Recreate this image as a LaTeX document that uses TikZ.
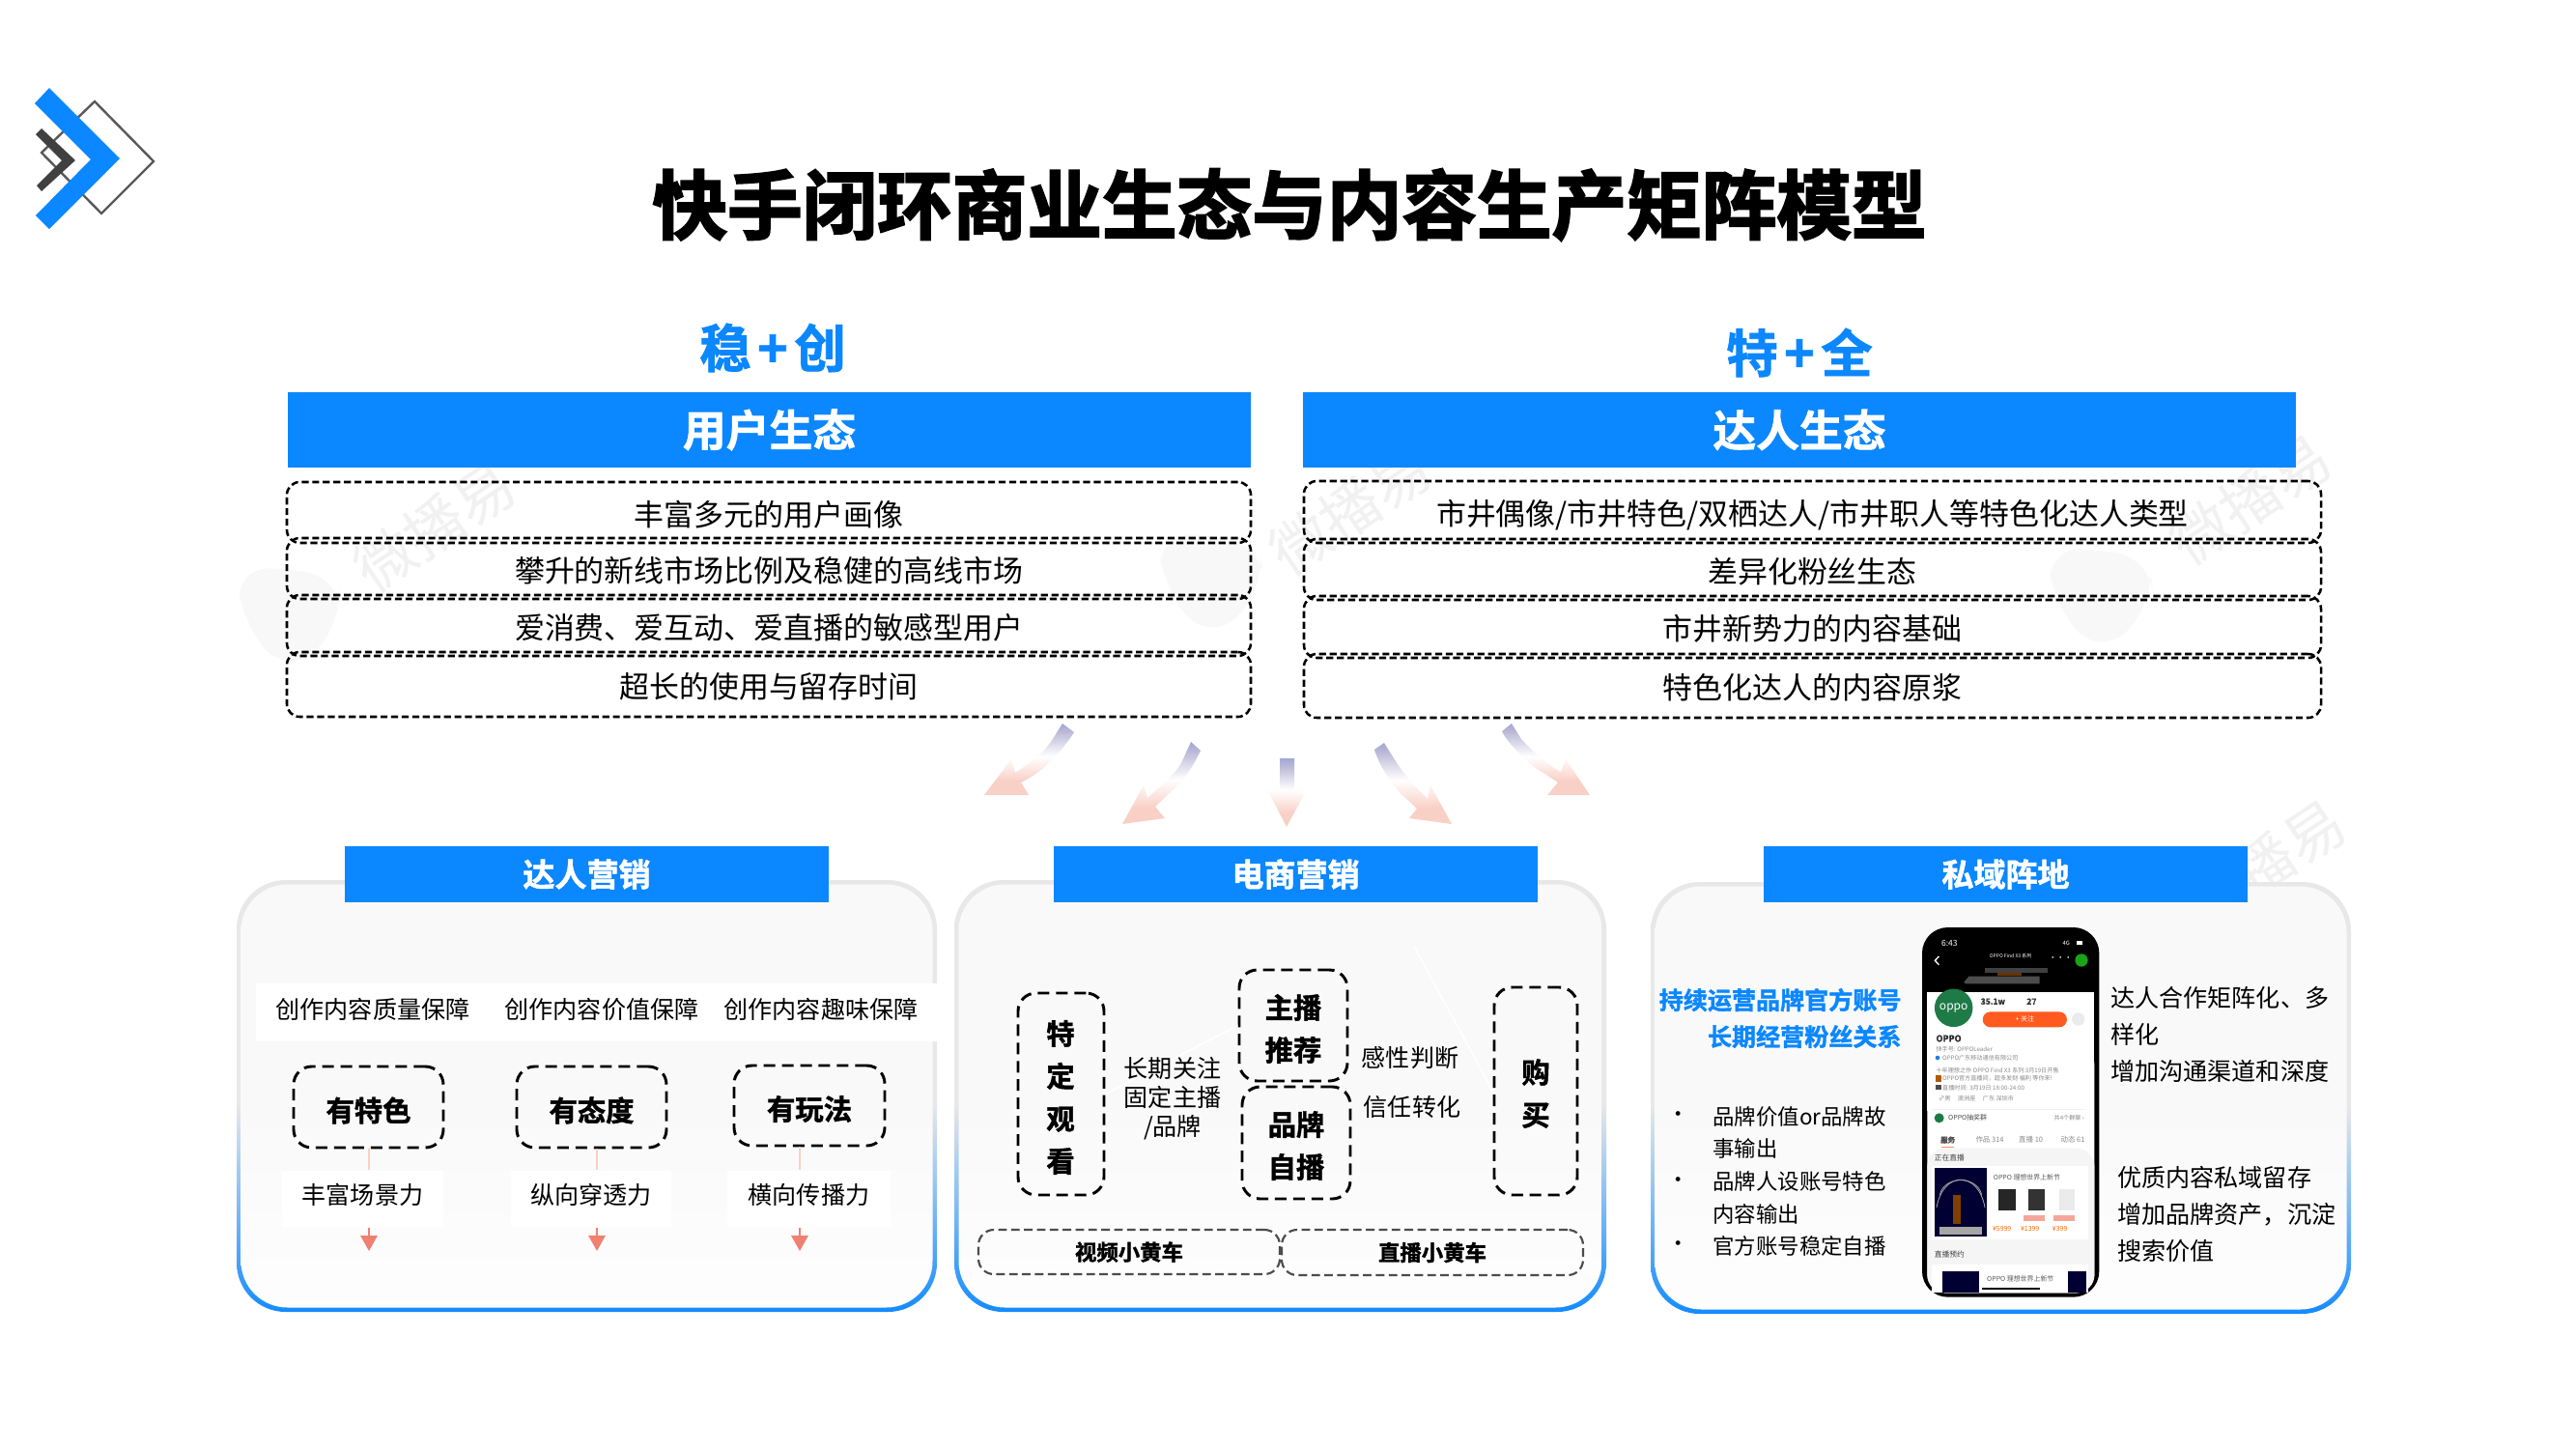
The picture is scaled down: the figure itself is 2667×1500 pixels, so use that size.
\documentclass[tikz,border=0pt]{standalone}
\usepackage{fontspec}
\setmainfont{Noto Sans CJK SC}
\newfontfamily\heavy[FakeBold=1.5]{Noto Sans CJK SC Bold}
\newfontfamily\heavier[FakeBold=2.6]{Noto Sans CJK SC Bold}
\usetikzlibrary{arrows.meta}
\newcommand\fs[1]{\fontsize{#1pt}{#1pt}\selectfont}
\newcommand\fsl[2]{\fontsize{#1pt}{#2pt}\selectfont}
\definecolor{brand}{HTML}{0B87FF}
\definecolor{panelgray}{HTML}{E8E8E8}
\definecolor{panelfill}{HTML}{F9F9FA}
\definecolor{apink}{HTML}{F9D0C6}
\definecolor{ablue}{HTML}{1F7FEA}
\definecolor{amid}{HTML}{5F8CD8}
\definecolor{amid2}{HTML}{B9B6D6}
\definecolor{salmon}{HTML}{F08070}
\definecolor{wm}{HTML}{F1F1F1}
\definecolor{wmb}{HTML}{F8F8F8}
\definecolor{oppogreen}{HTML}{1E7A46}
\definecolor{btnorange}{HTML}{FF5A1F}
\definecolor{tinygray}{HTML}{8A8A8A}
\pgfdeclareverticalshading{arrowsh}{100bp}{color(0bp)=(white); color(8bp)=(apink); color(35bp)=(apink); color(52bp)=(white); color(70bp)=(amid2); color(87bp)=(amid); color(100bp)=(ablue)}
\pgfdeclareverticalshading{panelb}{100bp}{color(0bp)=(brand); color(24bp)=(brand); color(49bp)=(panelgray); color(100bp)=(panelgray)}
\pgfdeclareverticalshading{panelf}{100bp}{color(0bp)=(white); color(18bp)=(white); color(49bp)=(panelfill); color(100bp)=(panelfill)}
\newcommand\fitbox[6][]{\node[#2,#1,minimum width={(#5)*0.375pt},minimum height={(#6)*0.375pt}] at ({#3+(#5)/2},{#4+(#6)/2})}
\tikzset{
  bar/.style={fill=brand,text=white,inner sep=0pt,font=\heavy\fs{16.8}},
  subbar/.style={fill=brand,text=white,inner sep=0pt,font=\heavy\fs{12.4}},
  rowbox/.style={draw=black,line width=0.95pt,rounded corners=5pt,dash pattern=on 2.7pt off 1.4pt,inner sep=0pt,font=\fs{11.6},text height=11.7pt,text depth=1.4pt},
  bigdash/.style={draw=black,line width=1.1pt,rounded corners=7pt,dash pattern=on 4.5pt off 2.6pt,inner sep=0pt,font=\heavy\fs{11},align=center,text height=12.3pt,text depth=1.3pt},
  tallbox/.style={draw=black,line width=1.1pt,rounded corners=7pt,dash pattern=on 4.5pt off 2.6pt,inner sep=0pt},
  stack/.style={inner sep=0pt,align=center,font=\heavy\fsl{11}{16.5pt}},
  yellowbox/.style={draw=black!70,line width=0.8pt,rounded corners=6pt,dash pattern=on 3.3pt off 1.7pt,inner sep=0pt,font=\heavy\fs{8.4}},
  whitelab/.style={fill=white,inner sep=0pt,font=\fs{9.4},text height=8.3pt,text depth=4.1pt},
  txt/.style={inner sep=0pt,font=\fs{9.4}},
  leadtxt/.style={inner sep=0pt,font=\fsl{9.4}{14.15pt},align=left,anchor=north west},
  bullet/.style={inner sep=0pt,font=\fs{8.4}},
  faintline/.style={draw=apink,line width=0.7pt},
  redarrow/.style={draw=salmon,line width=0.8pt,-{Triangle[length=6pt,width=6.5pt]}},
  watermark/.style={text=wm,font=\fs{23},rotate=34,inner sep=0pt},
  fade/.style={shade,shading=arrowsh},
  tiny/.style={inner sep=0pt,text=tinygray,font=\fs{2.3}},
  tinyw/.style={inner sep=0pt,text=white,font=\fs{2.6}},
}
\begin{document}
\begin{tikzpicture}[x=0.375pt,y=-0.375pt]
\useasboundingbox (0,0) rectangle (2667,1500);
\fill[white] (0,0) rectangle (2667,1500);

% watermark
\node[watermark] (wm1) at (450,545) {微播易};
\node[watermark] (wm2) at (1398,528) {微播易};
\node[watermark] (wm3) at (2330,517) {微播易};
\node[watermark] (wm4) at (2345,895) {微播易};
\foreach \cx/\cy in {300/635,1254/600,2175/615}{
  \fill[wmb,rounded corners=14pt] (\cx-55,\cy-50) -- (\cx+50,\cy-40) -- (\cx+55,\cy+10) -- (\cx,\cy+65) -- (\cx-50,\cy+10) -- cycle;
}

% logo
\draw[draw=black!65,line width=0.9pt,fill=white] (98,105) -- (159,167) -- (105,221) -- (43,158) -- cycle;
\fill[brand] (51,91) -- (124,164) -- (51,237) -- (37,223) -- (94,165) -- (36,107) -- cycle;
\fill[black!75] (43,133) -- (78,166) -- (43,198) -- (38,192) -- (64,166) -- (37,139) -- cycle;

% title
\node[inner sep=0pt,font=\heavier\fs{29.1}] (title) at (1335,212) {快手闭环商业生态与内容生产矩阵模型};
\node[inner sep=0pt,text=brand,font=\heavy\fs{20}] (tagl) at (800,360) {稳\kern2.5pt+\kern2.5pt创};
\node[inner sep=0pt,text=brand,font=\heavy\fs{20}] (tagr) at (1863,365) {特\kern2.5pt+\kern2.5pt全};

% top bars
\fitbox[name=barl]{bar}{298}{406}{997}{78}{用户生态};
\fitbox[name=barr]{bar}{1349}{406}{1028}{78}{达人生态};

% rows left
\fitbox[name=l1]{rowbox}{297}{499}{998}{63}{丰富多元的用户画像};
\fitbox[name=l2]{rowbox}{297}{557}{998}{63}{攀升的新线市场比例及稳健的高线市场};
\fitbox[name=l3]{rowbox}{297}{616}{998}{63}{爱消费、爱互动、爱直播的敏感型用户};
\fitbox[name=l4]{rowbox}{297}{675}{998}{67}{超长的使用与留存时间};
% rows right
\fitbox[name=r1]{rowbox}{1350}{498}{1053}{64}{市井偶像/市井特色/双栖达人/市井职人等特色化达人类型};
\fitbox[name=r2]{rowbox}{1350}{558}{1053}{63}{差异化粉丝生态};
\fitbox[name=r3]{rowbox}{1350}{617}{1053}{64}{市井新势力的内容基础};
\fitbox[name=r4]{rowbox}{1350}{677}{1053}{66}{特色化达人的内容原浆};

% gradient arrows
\path[fade] (1100,749) -- (1112,758) .. controls (1103,772) and (1092,785) .. (1080,795) .. controls (1072,802) and (1065,806) .. (1057,810) -- (1065,823) -- (1019,823) -- (1047,786) -- (1051,800) .. controls (1063,792) and (1078,782) .. (1088,768) -- cycle;
\path[fade] (1233,768) -- (1243,777) .. controls (1237,790) and (1228,805) .. (1215,817) -- (1196,835) -- (1206,847) -- (1162,853) -- (1184,813) -- (1188,826) .. controls (1200,815) and (1218,800) .. (1223,790) -- cycle;
\path[fade] (1325,785) -- (1340,785) -- (1340,817) -- (1353,817) -- (1332,856) -- (1312,817) -- (1325,817) -- cycle;
\path[fade] (1433,769) -- (1423,776) .. controls (1427,790) and (1440,812) .. (1452,823) -- (1467,837) -- (1459,847) -- (1503,853) -- (1481,813) -- (1478,827) .. controls (1470,820) and (1452,800) .. (1445,788) -- cycle;
\path[fade] (1565,749) -- (1555,757) .. controls (1560,768) and (1578,786) .. (1590,795) -- (1613,810) -- (1602,823) -- (1646,823) -- (1621,786) -- (1616,799) .. controls (1608,795) and (1590,782) .. (1575,765) -- cycle;

% panels
\foreach \xa/\ya/\xb/\yb in {245/911/970/1358,988/911/1663/1358,1709/913/2434/1360}{
  \path[shade,shading=panelb,rounded corners=19pt] (\xa,\ya) rectangle (\xb,\yb);
  \path[shade,shading=panelf,rounded corners=18pt] (\xa+4.5,\ya+4.5) rectangle (\xb-4.5,\yb-4.5);
}
\fitbox[name=h1]{subbar}{357}{876}{501}{58}{达人营销};
\fitbox[name=h2]{subbar}{1091}{876}{501}{58}{电商营销};
\fitbox[name=h3]{subbar}{1826}{876}{501}{58}{私域阵地};

% panel 1
\fill[white] (265,1018) rectangle (972,1078);
\node[txt] (q1) at (386,1045) {创作内容质量保障};
\node[txt] (q2) at (623,1045) {创作内容价值保障};
\node[txt] (q3) at (850,1045) {创作内容趣味保障};
\fitbox[name=d1]{bigdash}{304}{1104}{155}{84}{有特色};
\fitbox[name=d2]{bigdash}{535}{1104}{155}{84}{有态度};
\fitbox[name=d3]{bigdash}{760}{1103}{156}{83}{有玩法};
\fitbox[name=f1]{whitelab}{292}{1212}{167}{58}{丰富场景力};
\fitbox[name=f2]{whitelab}{529}{1212}{166}{58}{纵向穿透力};
\fitbox[name=f3]{whitelab}{753}{1212}{169}{58}{横向传播力};
\coordinate (t1) at (382,1295);
\coordinate (t2) at (618,1295);
\coordinate (t3) at (828,1295);
\draw[faintline] (d1.south -| t1) -- (f1.north -| t1);
\draw[faintline] (d2.south -| t2) -- (f2.north -| t2);
\draw[faintline] (d3.south -| t3) -- (f3.north -| t3);
\draw[redarrow] (f1.south -| t1) -- (t1);
\draw[redarrow] (f2.south -| t2) -- (t2);
\draw[redarrow] (f3.south -| t3) -- (t3);

% panel 2
\fitbox[name=g1]{tallbox}{1054}{1028}{89}{209}{};
\fitbox[name=g2]{tallbox}{1283}{1004}{112}{115}{};
\fitbox[name=g3]{tallbox}{1286}{1125}{112}{116}{};
\fitbox[name=g4]{tallbox}{1547}{1022}{86}{215}{};
\coordinate (wl) at (1464,980);
\draw[white,line width=0.6pt] (g1.east) -- (g2.west);
\draw[white,line width=0.6pt] (wl) -- (g4.west);
\node[stack] (g1t) at (1098,1136) {特\\定\\观\\看};
\node[stack] (g2t) at (1339,1065) {主播\\推荐};
\node[stack] (g3t) at (1342,1186) {品牌\\自播};
\node[stack] (g4t) at (1590,1132) {购\\买};
\node[txt,align=center,font=\fsl{9.4}{11.25pt}] (lg) at (1214,1137) {长期关注\\固定主播\\/品牌};
\node[txt] (gx1) at (1460,1095) {感性判断};
\node[txt] (gx2) at (1462,1146) {信任转化};
\fitbox[name=y1]{yellowbox}{1013}{1273}{312}{46}{视频小黄车};
\fitbox[name=y2]{yellowbox}{1327}{1273}{312}{47}{直播小黄车};

% panel 3
\node[inner sep=0pt,align=right,text=brand,font=\heavy\fsl{9.4}{14.2pt},anchor=east] (blue) at (1969,1054) {持续运营品牌官方账号\\长期经营粉丝关系};
\node[bullet] (b1) at (1738,1156) {•};
\node[bullet] (b2) at (1738,1224) {•};
\node[bullet] (b3) at (1738,1290) {•};
\node[inner sep=0pt,align=left,font=\fsl{8.4}{12.6pt},anchor=west] (blist) at (1773,1223) {品牌价值or品牌故\\事输出\\品牌人设账号特色\\内容输出\\官方账号稳定自播};
\node[leadtxt,anchor=west] (rt1) at (2185,1071) {达人合作矩阵化、多\\样化\\增加沟通渠道和深度};
\node[leadtxt,anchor=west] (rt2) at (2192,1257) {优质内容私域留存\\增加品牌资产，沉淀\\搜索价值};

% phone
\begin{scope}[shift={(1980,950)},x=0.125pt,y=-0.125pt]
  \fill[black,rounded corners=10pt] (30,30) rectangle (580,1178);
  \fill[white,rounded corners=7pt] (46,400) rectangle (565,1165);
  \fill[white] (46,232) rectangle (565,600);
  \fill[black!75] (225,155) -- (420,155) -- (420,170) -- (225,170) -- cycle;
  \fill[black!70] (160,200) -- (175,182) -- (395,182) -- (395,205) -- (165,205) -- cycle;
  \fill[orange!40!black] (265,172) rectangle (340,180);
  \node[tinyw,font=\fs{3.2}] (pa) at (115,78) {6:43};
  \node[tinyw,font=\fs{2.2}] (pb) at (478,78) {4G};
  \fill[white] (510,72) rectangle (528,84);
  \draw[white,line width=0.5pt] (82,120) -- (70,133) -- (82,146);
  \node[tinyw,font=\fs{1.9}] (pc) at (305,120) {OPPO Find X3 系列};
  \node[tinyw,font=\fs{3}] (pd) at (460,128) {···};
  \fill[green!60!black!90!white] (525,132) circle (20);
  \node[circle,fill=oppogreen,minimum size=14.8pt,inner sep=0pt,text=white,font=\fs{4.5}] (oppo) at (128,280) {oppo};
  \node[inner sep=0pt,font=\heavy\fs{3.2},text=black!80] (pe) at (250,260) {35.1w};
  \node[inner sep=0pt,font=\heavy\fs{3.2},text=black!80] (pf) at (370,260) {27};
  \node[rounded corners=3pt,fill=btnorange,text=white,minimum width=32.7pt,minimum height=6pt,inner sep=0pt,font=\fs{2.6}] (btn) at (349,316) {+ 关注};
  \fill[black!8] (515,315) circle (20);
  \node[inner sep=0pt,anchor=west,font=\heavy\fs{3.4},text=black!85] (pg) at (72,375) {OPPO};
  \node[tiny,anchor=west] (ph) at (72,408) {快手号: OPPOLeader};
  \fill[ablue] (78,435) circle (7);
  \node[tiny,anchor=west] (pi) at (92,435) {OPPO广东移动通信有限公司};
  \node[tiny,anchor=west] (pj) at (72,475) {十年理想之作 OPPO Find X3 系列 3月19日开售};
  \fill[orange!70!black] (72,490) rectangle (90,510);
  \node[tiny,anchor=west] (pk) at (92,500) {OPPO官方直播间，超多发财 福利 等你来!};
  \fill[black!70] (72,518) rectangle (90,535);
  \node[tiny,anchor=west] (pl) at (92,527) {直播时间: 3月19日 18:00-24:00};
  \node[tiny,anchor=west] (pm) at (80,560) {♂男 \quad 澳洲座 \quad 广东 深圳市};
  \draw[black!6,line width=0.3pt] (60,595) -- (540,595);
  \fill[oppogreen] (83,622) circle (15);
  \node[tiny,anchor=west,text=black!70,font=\fs{2.6}] (pn) at (110,622) {OPPO抽奖群};
  \node[tiny,anchor=east] (po) at (535,622) {共4个群聊 ›};
  \node[inner sep=0pt,font=\heavy\fs{2.8},text=black!70] (pp) at (110,690) {服务};
  \draw[btnorange!70,line width=0.4pt] (90,712) -- (130,712);
  \node[tiny,font=\fs{2.8}] (pq) at (240,690) {作品 314};
  \node[tiny,font=\fs{2.8}] (pr) at (368,690) {直播 10};
  \node[tiny,font=\fs{2.8}] (ps) at (498,690) {动态 61};
  \fill[black!4,rounded corners=7pt] (46,716) rectangle (565,1165);
  \node[inner sep=0pt,font=\fs{2.9},text=black!75] (pt) at (115,745) {正在直播};
  \fill[white] (60,770) rectangle (545,1000);
  \fill[blue!20!black] (70,778) rectangle (230,990);
  \draw[black!35,line width=0.3pt] (85,860) .. controls (100,800) and (200,800) .. (215,860);
  \draw[black!35,line width=0.3pt] (75,900) .. controls (95,785) and (205,785) .. (225,900);
  \fill[orange!50!black] (125,860) rectangle (150,950);
  \fill[black!35] (85,960) rectangle (215,985);
  \node[tiny,anchor=west,text=black!65,font=\fs{2.6}] (pu) at (250,808) {OPPO 理想世界上新节};
  \fill[black!85] (266,842) rectangle (320,910);
  \fill[black!80] (360,842) rectangle (412,910);
  \fill[black!8] (455,842) rectangle (505,910);
  \fill[salmon!70] (345,925) rectangle (410,942);
  \fill[salmon!70] (438,925) rectangle (503,942);
  \node[inner sep=0pt,text=orange!80!red,font=\fs{2.6}] (pv) at (278,965) {¥5999};
  \node[inner sep=0pt,text=orange!80!red,font=\fs{2.6}] (pw) at (365,965) {¥1399};
  \node[inner sep=0pt,text=orange!80!red,font=\fs{2.6}] (px) at (458,965) {¥399};
  \node[inner sep=0pt,font=\fs{2.9},text=black!75] (py) at (115,1045) {直播预约};
  \fill[white] (60,1078) rectangle (545,1165);
  \fill[blue!20!black] (92,1098) rectangle (208,1165);
  \fill[blue!20!black] (482,1098) rectangle (540,1165);
  \node[tiny,anchor=west,text=black!65,font=\fs{2.6}] (pz) at (230,1122) {OPPO 理想世界上新节};
  \fill[black] (215,1150) rectangle (395,1156);
\end{scope}
\end{tikzpicture}
\end{document}
